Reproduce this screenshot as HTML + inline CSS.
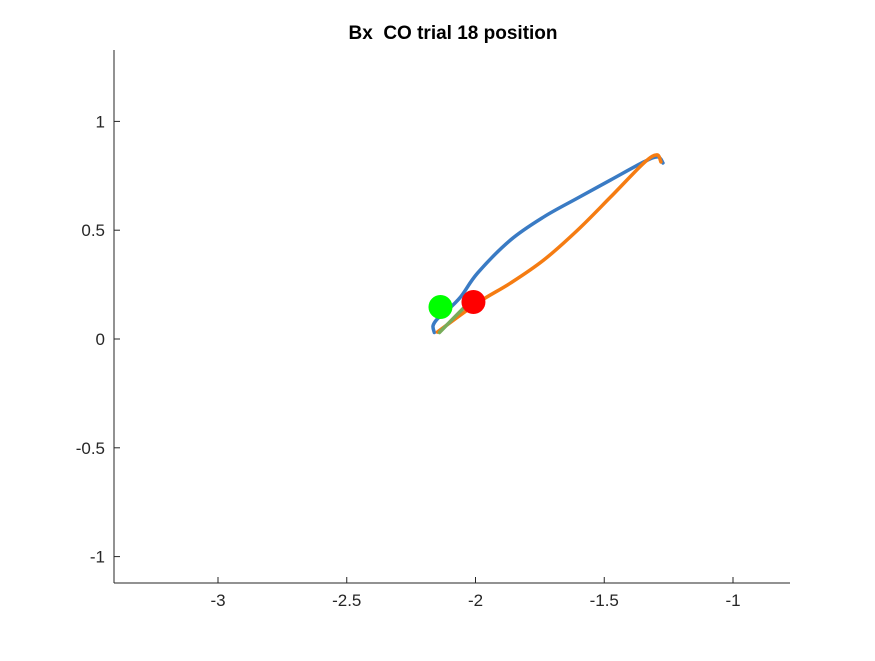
<!DOCTYPE html>
<html><head><meta charset="utf-8"><style>
html,body{margin:0;padding:0;background:#fff;}
svg text{font-family:"Liberation Sans",Arial,sans-serif;}
</style></head><body>
<svg id="chart" width="875" height="656" viewBox="0 0 875 656">
<rect width="875" height="656" fill="#fff"/>
<text x="453" y="39" text-anchor="middle" font-size="19" font-weight="bold" fill="#000" xml:space="preserve" style="white-space:pre">Bx  CO trial 18 position</text>
<g id="axes"></g>
<g id="marks"></g>
</svg>
<script>
const xTicks=[-3,-2.5,-2,-1.5,-1];
const yTicks=[1,0.5,0,-0.5,-1];
const blueX=[-2.16,-2.165,-2.15,-2.12,-2.058,-1.992,-1.864,-1.735,-1.603,-1.475,-1.346,-1.292,-1.272];
const blueY=[0.03,0.06,0.09,0.12,0.193,0.303,0.455,0.561,0.648,0.731,0.814,0.837,0.809];
const orangeX=[-2.148,-1.992,-1.864,-1.735,-1.603,-1.475,-1.346,-1.296,-1.280];
const orangeY=[0.032,0.166,0.257,0.363,0.501,0.653,0.809,0.846,0.814];
const greenX=[-2.14,-2.04];
const greenY=[0.03,0.15];
const startPt=[-2.136,0.147];
const endPt=[-2.008,0.170];
const NS="http://www.w3.org/2000/svg";
const sx=v=>218+(v+3)*257.5;
const sy=v=>339-v*217.6;
const axes=document.getElementById('axes'),marks=document.getElementById('marks');
function mk(tag,attrs,parent){const e=document.createElementNS(NS,tag);for(const k in attrs)e.setAttribute(k,attrs[k]);parent.appendChild(e);return e;}
const xa=mk('line',{x1:114,y1:583,x2:790,y2:583,stroke:'#262626','stroke-width':1},axes);


const ya=mk('line',{x1:114,y1:50,x2:114,y2:583,stroke:'#262626','stroke-width':1},axes);


xTicks.forEach(t=>{const x=sx(t);
 mk('line',{x1:x,y1:583,x2:x,y2:577,stroke:'#262626'},axes);
 const tx=mk('text',{x:x,y:606,'text-anchor':'middle','font-size':17,fill:'#262626'},axes);tx.textContent=t;
 
 });
yTicks.forEach(t=>{const y=sy(t);
 mk('line',{x1:114,y1:y,x2:120,y2:y,stroke:'#262626'},axes);
 const tx=mk('text',{x:105,y:y+6,'text-anchor':'end','font-size':17,fill:'#262626'},axes);tx.textContent=t;
 
 });
function smooth(xs,ys){const P=xs.map((v,i)=>[sx(v),sy(ys[i])]);let d='M'+P[0][0]+','+P[0][1];
 for(let i=0;i<P.length-1;i++){const p0=P[Math.max(0,i-1)],p1=P[i],p2=P[i+1],p3=P[Math.min(P.length-1,i+2)];
  const c1=[p1[0]+(p2[0]-p0[0])/6,p1[1]+(p2[1]-p0[1])/6],c2=[p2[0]-(p3[0]-p1[0])/6,p2[1]-(p3[1]-p1[1])/6];
  d+=' C'+c1[0]+','+c1[1]+' '+c2[0]+','+c2[1]+' '+p2[0]+','+p2[1];}
 return d;}
function line(xs,ys,color,w,name){
 const e=mk('path',{d:smooth(xs,ys),fill:'none',stroke:color,'stroke-width':w,'stroke-linejoin':'round','stroke-linecap':'round'},marks);
 
 }
line(blueX,blueY,'#3a7bc4',3.5,'blue-trajectory');
line(orangeX,orangeY,'#f57c12',3.5,'orange-trajectory');
line(greenX,greenY,'#77ac5a',3.5,'green-trajectory');
const g=mk('circle',{cx:sx(startPt[0]),cy:sy(startPt[1]),r:12,fill:'#00ff00'},marks);


const r=mk('circle',{cx:sx(endPt[0]),cy:sy(endPt[1]),r:12,fill:'#ff0000'},marks);


</script>
</body></html>
